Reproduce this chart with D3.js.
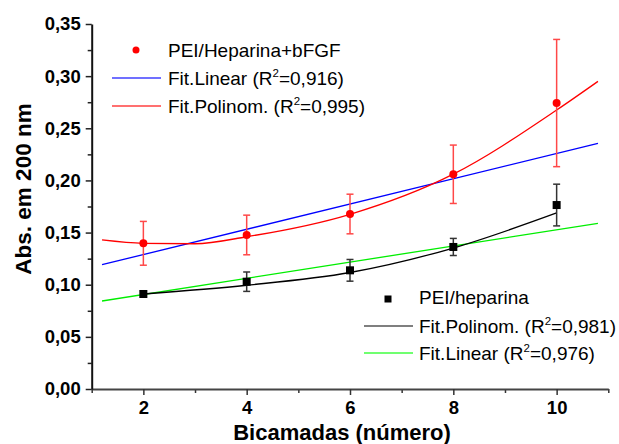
<!DOCTYPE html>
<html>
<head>
<meta charset="utf-8">
<script src="https://cdn.jsdelivr.net/npm/d3@7"></script>
<style>
  body { margin: 0; background: #fff; }
  svg { font-family: "Liberation Sans", Arial, sans-serif; }
</style>
</head>
<body>
<div id="chart-area"></div>
<script>
// data
const bicamadas = [2, 4, 6, 8, 10];
const absBfgf = [0.1397, 0.1477, 0.1678, 0.2059, 0.2742];
const errBfgf = [0.021, 0.019, 0.019, 0.028, 0.061];
const absHep = [0.0911, 0.1029, 0.1138, 0.1362, 0.1764];
const errHep = [0.003, 0.0093, 0.0104, 0.0082, 0.020];

// fitted curves
const linBfgfX = [1.2, 10.8];
const linBfgfY = [0.1192, 0.2356];
const polyBfgfX = [1.2, 2, 3, 4, 6, 8, 10, 10.8];
const polyBfgfY = [0.1429, 0.1397, 0.1393, 0.1460, 0.1675, 0.2060, 0.2675, 0.2950];
const polyHepX = [2, 4, 6, 8, 10];
const polyHepY = [0.0911, 0.0995, 0.1117, 0.1352, 0.1688];
const linHepX = [1.2, 10.8];
const linHepY = [0.0844, 0.1589];

const xTicks = [2, 4, 6, 8, 10];
const yTicks = [0, 0.05, 0.10, 0.15, 0.20, 0.25, 0.30, 0.35];

const margin = { top: 24, bottom: 55, left: 91.7, right: 10.7 };
const width = 619 - margin.left - margin.right;
const height = 444 - margin.top - margin.bottom;

const x = d3.scaleLinear().domain([1, 11]).range([0, width]);
const y = d3.scaleLinear().domain([0, 0.35]).range([height, 0]);

const svg = d3.select('#chart-area').append('svg')
  .attr('width', 619)
  .attr('height', 444);

const g = svg.append('g')
  .attr('transform', `translate(${margin.left}, ${margin.top})`);

const comma = d3.format('.2f');

// minor ticks
g.append('g')
  .attr('transform', `translate(0, ${height})`)
  .call(d3.axisBottom(x).tickValues([1, 3, 5, 7, 9, 11]).tickSize(4).tickFormat(''))
  .call(a => a.select('.domain').remove())
  .selectAll('line').attr('stroke', '#333').attr('stroke-width', 1.5);

g.append('g')
  .call(d3.axisLeft(y).tickValues(d3.range(0.025, 0.35, 0.05)).tickSize(4).tickFormat(''))
  .call(a => a.select('.domain').remove())
  .selectAll('line').attr('stroke', '#222').attr('stroke-width', 1.5);

// x axis
const xAxisGroup = g.append('g')
  .attr('transform', `translate(0, ${height})`)
  .call(d3.axisBottom(x).tickValues(xTicks).tickSize(6).tickSizeOuter(0).tickPadding(6));
xAxisGroup.select('.domain').attr('stroke', '#444').attr('stroke-width', 2);
xAxisGroup.selectAll('line').attr('stroke', '#333').attr('stroke-width', 1.5);
xAxisGroup.selectAll('text')
  .attr('font-size', '18.5px')
  .attr('font-weight', 'bold')
  .attr('fill', '#000')
  .attr('font-family', '"Liberation Sans", Arial, sans-serif');

// y axis
const yAxisGroup = g.append('g')
  .call(d3.axisLeft(y).tickValues(yTicks).tickSize(6).tickSizeOuter(0).tickPadding(5)
    .tickFormat(d => comma(d).replace('.', ',')));
yAxisGroup.select('.domain').attr('stroke', '#111').attr('stroke-width', 2);
yAxisGroup.selectAll('line').attr('stroke', '#222').attr('stroke-width', 1.5);
yAxisGroup.selectAll('text')
  .attr('font-size', '18.5px')
  .attr('font-weight', 'bold')
  .attr('fill', '#000')
  .attr('font-family', '"Liberation Sans", Arial, sans-serif');

// axis labels
g.append('text')
  .attr('x', width / 2 - 8)
  .attr('y', height + 51)
  .attr('font-size', '22px')
  .attr('font-weight', 'bold')
  .attr('text-anchor', 'middle')
  .text('Bicamadas (número)');

g.append('text')
  .attr('x', -(189 - margin.top))
  .attr('y', -61)
  .attr('font-size', '22.5px')
  .attr('font-weight', 'bold')
  .attr('text-anchor', 'middle')
  .attr('transform', 'rotate(-90)')
  .text('Abs. em 200 nm');

// fit curves
const line = d3.line()
  .x(d => x(d[0]))
  .y(d => y(d[1]))
  .curve(d3.curveMonotoneX);

const fits = [
  { xs: linBfgfX, ys: linBfgfY, colour: '#0000ff' },
  { xs: polyBfgfX, ys: polyBfgfY, colour: '#ff0000' },
  { xs: linHepX, ys: linHepY, colour: '#00ee00' },
  { xs: polyHepX, ys: polyHepY, colour: '#000000' }
];

fits.forEach(f => {
  g.append('path')
    .datum(f.xs.map((v, i) => [v, f.ys[i]]))
    .attr('fill', 'none')
    .attr('stroke', f.colour)
    .attr('stroke-width', 1.3)
    .attr('d', line);
});

// error bars
const errorBars = (vals, errs, colour) => {
  const eb = g.append('g')
    .attr('stroke', colour)
    .attr('stroke-width', 1.5);
  bicamadas.forEach((b, i) => {
    const cx = x(b);
    const top = y(vals[i] + errs[i]);
    const bot = y(vals[i] - errs[i]);
    eb.append('line').attr('x1', cx).attr('x2', cx).attr('y1', top).attr('y2', bot);
    eb.append('line').attr('x1', cx - 3.5).attr('x2', cx + 3.5).attr('y1', top).attr('y2', top);
    eb.append('line').attr('x1', cx - 3.5).attr('x2', cx + 3.5).attr('y1', bot).attr('y2', bot);
  });
};
errorBars(absBfgf, errBfgf, '#ff4848');
errorBars(absHep, errHep, '#333');

// points
g.selectAll('circle.bfgf')
  .data(bicamadas)
  .enter().append('circle')
  .attr('class', 'bfgf')
  .attr('cx', d => x(d))
  .attr('cy', (d, i) => y(absBfgf[i]))
  .attr('r', 4)
  .attr('fill', '#ff0000');

g.selectAll('rect.hep')
  .data(bicamadas)
  .enter().append('rect')
  .attr('class', 'hep')
  .attr('x', d => x(d) - 4)
  .attr('y', (d, i) => y(absHep[i]) - 4)
  .attr('width', 8)
  .attr('height', 8)
  .attr('fill', '#000');

// legends
const legendText = (parent, tx, ty, label, r2) => {
  const t = parent.append('text')
    .attr('x', tx)
    .attr('y', ty)
    .attr('font-size', '19px');
  if (r2) {
    t.append('tspan').text(label + ' (R');
    t.append('tspan').attr('dy', -7.5).attr('font-size', '11.5px').text('2');
    t.append('tspan').attr('dy', 7.5).text('=' + r2 + ')');
  } else {
    t.text(label);
  }
};

const legend1 = svg.append('g');
legend1.append('circle').attr('cx', 136).attr('cy', 50).attr('r', 3.5).attr('fill', '#ff0000');
legendText(legend1, 168, 56.5, 'PEI/Heparina+bFGF');
legend1.append('line').attr('x1', 112).attr('x2', 161).attr('y1', 78).attr('y2', 78)
  .attr('stroke', '#4040ff').attr('stroke-width', 1.3);
legendText(legend1, 168, 84.5, 'Fit.Linear', '0,916');
legend1.append('line').attr('x1', 112).attr('x2', 161).attr('y1', 106).attr('y2', 106)
  .attr('stroke', '#ff4040').attr('stroke-width', 1.3);
legendText(legend1, 168, 112.5, 'Fit.Polinom.', '0,995');

const legend2 = svg.append('g');
legend2.append('rect').attr('x', 384.5).attr('y', 295.5).attr('width', 7).attr('height', 7).attr('fill', '#000');
legendText(legend2, 419, 303.5, 'PEI/heparina');
legend2.append('line').attr('x1', 364).attr('x2', 413).attr('y1', 326).attr('y2', 326)
  .attr('stroke', '#000').attr('stroke-width', 1.2);
legendText(legend2, 419, 332.5, 'Fit.Polinom.', '0,981');
legend2.append('line').attr('x1', 364).attr('x2', 413).attr('y1', 353).attr('y2', 353)
  .attr('stroke', '#40ff40').attr('stroke-width', 1.3);
legendText(legend2, 419, 359.5, 'Fit.Linear', '0,976');
</script>
</body>
</html>
